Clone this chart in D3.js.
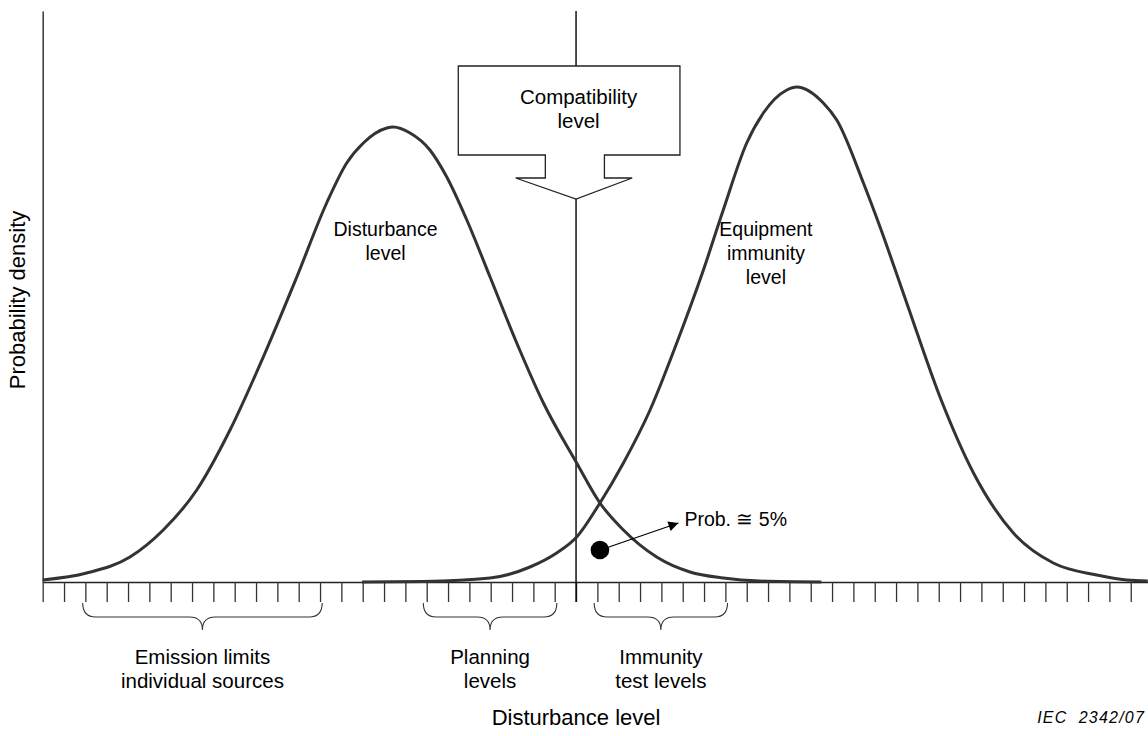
<!DOCTYPE html>
<html>
<head>
<meta charset="utf-8">
<script src="https://cdn.jsdelivr.net/npm/d3@7"></script>
<style>
  body { margin: 0; background: #fff; }
  svg { display: block; font-family: "Liberation Sans", Arial, sans-serif; }
</style>
</head>
<body>
<svg id="chart"></svg>
<script>
// disturbance level density (x in tick steps, y in density units)
let disturbanceX = [0, 2.06, 4.09, 5.65, 7.22, 8.78, 10.34, 11.91, 13.31, 14.25, 15.03, 16.13, 16.42,
    17.22, 18.15, 18.94, 19.88, 20.97, 22.22, 23.47, 25.03, 26.12, 27.22, 28.78, 30.34, 31.9, 33.6, 36.5]
let disturbanceY = [2, 9, 25, 52, 92, 152, 225, 305, 379, 419, 439, 454, 455,
    449, 432, 405, 362, 305, 239, 179, 119, 79, 52, 25, 10, 4, 1, 0]

// equipment immunity level density
let immunityX = [14.97, 17.83, 20.97, 22.84, 24.09, 25.03, 26.12, 27.22, 28.47, 29.72, 30.97, 31.9, 33.0,
    33.78, 34.88, 35.34, 36.59, 37.22, 38.47, 39.25, 40.5, 42.06, 43.63, 45.5, 47.37, 49.41, 50.81, 51.8]
let immunityY = [0, 0.5, 4, 15, 29, 45, 79, 119, 172, 239, 312, 372, 439,
    469, 492, 495, 479, 462, 399, 355, 279, 185, 109, 49, 19, 7, 2, 1]

let tickSteps = d3.range(0, 52)
let compatibilityAt = 25

// bracketed ranges under the axis
let braceNames = [["Emission limits", "individual sources"], ["Planning", "levels"], ["Immunity", "test levels"]]
let braceStart = [1.875, 17.84, 25.85]
let braceEnd = [13.1, 24.1, 32.1]

let curveLabels = [["Disturbance", "level"], ["Equipment", "immunity", "level"]]
let curveLabelX = [16.07, 33.9]
let curveLabelY = [346, 346]

let probText = "Prob. \u2245 5%"
let probDot = [26.12, 32]
let probArrowEnd = [29.8, 59]
let probTextAt = [30.08, 56]

let width = 1148
let height = 736

let chart = d3.select("#chart").attr("width", width).attr("height", height)

let x = d3.scaleLinear().domain([0, 51.8]).range([42.7, 1147.8])
let y = d3.scaleLinear().domain([0, 571]).range([582, 11])

chart.append("defs").append("marker")
    .attr("id", "head")
    .attr("viewBox", "0 0 10 10")
    .attr("refX", 10).attr("refY", 5)
    .attr("markerWidth", 18).attr("markerHeight", 10)
    .attr("markerUnits", "userSpaceOnUse")
    .attr("orient", "auto")
    .append("path").attr("d", "M0,0 L10,5 L0,10 Z").attr("fill", "#000")

// axes
let xAxis = chart.append("g")
    .attr("transform", "translate(0," + y(0) + ")")
    .call(d3.axisBottom(x).tickValues(tickSteps).tickSize(20).tickSizeOuter(0).tickFormat(""))
xAxis.select(".domain").attr("stroke", "#222").attr("stroke-width", 1.4)
xAxis.selectAll(".tick line").attr("stroke", "#333").attr("stroke-width", 1.3)

let yAxis = chart.append("g")
    .attr("transform", "translate(" + x(0) + ",0)")
    .call(d3.axisLeft(y).tickValues([]).tickSizeOuter(0))
yAxis.select(".domain").attr("stroke", "#444").attr("stroke-width", 1.6)

// compatibility level line
chart.append("line")
    .attr("x1", x(compatibilityAt)).attr("x2", x(compatibilityAt))
    .attr("y1", y(571)).attr("y2", y(0) + 20)
    .attr("stroke", "#000").attr("stroke-width", 1.4)

// curves
let line = d3.line()
    .x(d => x(d[0]))
    .y(d => y(d[1]))
    .curve(d3.curveMonotoneX)

chart.append("path")
    .datum(d3.zip(disturbanceX, disturbanceY))
    .attr("d", line)
    .attr("fill", "none").attr("stroke", "#333").attr("stroke-width", 3)

chart.append("path")
    .datum(d3.zip(immunityX, immunityY))
    .attr("d", line)
    .attr("fill", "none").attr("stroke", "#333").attr("stroke-width", 3)

// compatibility box arrow (box edges, stem and wings in tick steps / density units)
let boxL = 19.48, boxR = 29.87, stemL = 23.56, stemR = 26.33, wingL = 22.17, wingR = 27.63
let boxTop = 516, boxBottom = 427, stemBottom = 404, tipY = 383
let arrowPts = [[boxL, boxTop], [boxR, boxTop], [boxR, boxBottom], [stemR, boxBottom], [stemR, stemBottom],
    [wingR, stemBottom], [compatibilityAt, tipY], [wingL, stemBottom], [stemL, stemBottom],
    [stemL, boxBottom], [boxL, boxBottom]]
chart.append("path")
    .datum(arrowPts)
    .attr("d", d3.line().x(d => x(d[0])).y(d => y(d[1])).curve(d3.curveLinearClosed))
    .attr("fill", "#fff").attr("stroke", "#222").attr("stroke-width", 1.3)

chart.append("text")
    .attr("text-anchor", "middle")
    .attr("font-size", 20.5)
    .selectAll("tspan").data(["Compatibility", "level"]).enter().append("tspan")
    .attr("x", x(25.12))
    .attr("y", (d, i) => y(478) + i * 24)
    .text(d => d)

// curve labels
curveLabels.forEach(function (lines, k) {
    chart.append("text")
        .attr("text-anchor", "middle")
        .attr("font-size", 19.5)
        .selectAll("tspan").data(lines).enter().append("tspan")
        .attr("x", x(curveLabelX[k]))
        .attr("y", (d, i) => y(curveLabelY[k]) + i * 24)
        .text(d => d)
})

// probability marker
chart.append("circle")
    .attr("cx", x(probDot[0])).attr("cy", y(probDot[1]))
    .attr("r", 9.3).attr("fill", "#000")

chart.append("line")
    .attr("x1", x(probDot[0]) + 9).attr("y1", y(probDot[1]) - 3)
    .attr("x2", x(probArrowEnd[0])).attr("y2", y(probArrowEnd[1]))
    .attr("stroke", "#000").attr("stroke-width", 1.2)
    .attr("marker-end", "url(#head)")

chart.append("text")
    .attr("x", x(probTextAt[0])).attr("y", y(probTextAt[1]))
    .attr("font-size", 19.5)
    .text(probText)

// braces
let braceTop = y(0) + 21, braceMid = y(0) + 35, braceTip = y(0) + 48
braceNames.forEach(function (lines, k) {
    let x1 = x(braceStart[k]), x2 = x(braceEnd[k]), m = (x1 + x2) / 2
    let r = 13
    let d = "M" + x1 + "," + braceTop +
        " Q" + x1 + "," + braceMid + " " + (x1 + r) + "," + braceMid +
        " L" + (m - r) + "," + braceMid +
        " Q" + m + "," + braceMid + " " + m + "," + braceTip +
        " Q" + m + "," + braceMid + " " + (m + r) + "," + braceMid +
        " L" + (x2 - r) + "," + braceMid +
        " Q" + x2 + "," + braceMid + " " + x2 + "," + braceTop
    chart.append("path").attr("d", d)
        .attr("fill", "none").attr("stroke", "#333").attr("stroke-width", 1.1)

    chart.append("text")
        .attr("text-anchor", "middle")
        .attr("font-size", 20.5)
        .selectAll("tspan").data(lines).enter().append("tspan")
        .attr("x", m)
        .attr("y", (dd, i) => 664 + i * 24)
        .text(dd => dd)
})

// axis titles
chart.append("text")
    .attr("text-anchor", "middle")
    .attr("font-size", 22)
    .attr("x", x(compatibilityAt)).attr("y", 725)
    .text("Disturbance level")

chart.append("text")
    .attr("text-anchor", "middle")
    .attr("font-size", 22)
    .attr("transform", "translate(25," + 300 + ") rotate(-90)")
    .text("Probability density")

chart.append("text")
    .attr("text-anchor", "end")
    .attr("font-size", 16)
    .attr("font-style", "italic")
    .attr("letter-spacing", 1.2)
    .attr("x", 1145).attr("y", 723)
    .attr("xml:space", "preserve")
    .style("white-space", "pre")
    .text("IEC  2342/07")
</script>
</body>
</html>
